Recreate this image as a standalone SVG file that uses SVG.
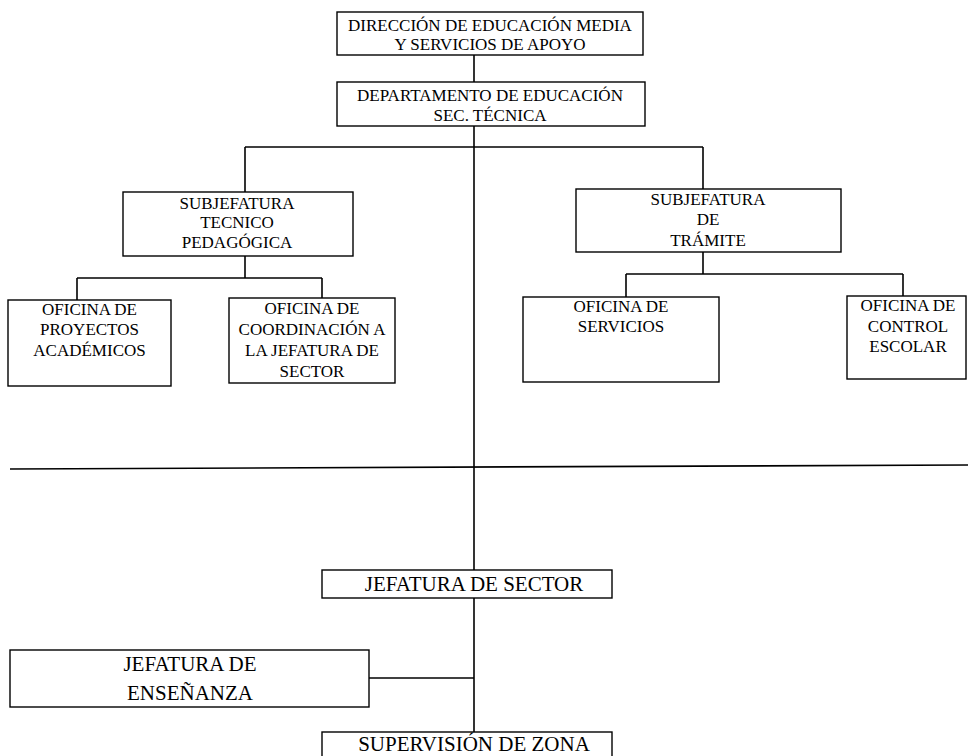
<svg xmlns="http://www.w3.org/2000/svg" width="968" height="756" viewBox="0 0 968 756">
<style>
  .box { fill: #ffffff; stroke: #000000; stroke-width: 1.4; }
  .t { font-family: "Liberation Serif", "Times New Roman", serif; font-size: 17px; fill: #000000; text-anchor: middle; }
  .tb { font-family: "Liberation Serif", "Times New Roman", serif; font-size: 21px; fill: #000000; text-anchor: middle; }
  .c { fill: none; stroke: #000000; stroke-width: 1.6; }
</style>
<rect x="0" y="0" width="968" height="756" fill="#ffffff"/>

<g id="connectors">
  <line class="c" x1="474" y1="55" x2="474" y2="82"/>
  <line class="c" x1="474" y1="126" x2="474" y2="570"/>
  <line class="c" x1="474" y1="598" x2="474" y2="732"/>
  <line class="c" x1="245" y1="147" x2="703" y2="147"/>
  <line class="c" x1="245" y1="147" x2="245" y2="192"/>
  <line class="c" x1="703" y1="147" x2="703" y2="189"/>
  <line class="c" x1="245" y1="256" x2="245" y2="278"/>
  <line class="c" x1="77" y1="278" x2="322" y2="278"/>
  <line class="c" x1="77" y1="278" x2="77" y2="300"/>
  <line class="c" x1="322" y1="278" x2="322" y2="298"/>
  <line class="c" x1="703" y1="252" x2="703" y2="274"/>
  <line class="c" x1="626" y1="274" x2="903" y2="274"/>
  <line class="c" x1="626" y1="274" x2="626" y2="297"/>
  <line class="c" x1="903" y1="274" x2="903" y2="296"/>
  <line class="c" x1="369" y1="678" x2="474" y2="678"/>
  <line class="c" x1="10" y1="469" x2="968" y2="465" stroke-width="1.3"/>
</g>

<g id="direccion">
  <rect class="box" x="337" y="12" width="306" height="43"/>
  <text class="t" x="490" y="31">DIRECCIÓN DE EDUCACIÓN MEDIA</text>
  <text class="t" x="490" y="50">Y SERVICIOS DE APOYO</text>
</g>

<g id="departamento">
  <rect class="box" x="337" y="82" width="308" height="44"/>
  <text class="t" x="490" y="101">DEPARTAMENTO DE EDUCACIÓN</text>
  <text class="t" x="490" y="121">SEC. TÉCNICA</text>
</g>

<g id="subjefatura-tecnico">
  <rect class="box" x="123" y="192" width="230" height="64"/>
  <text class="t" x="237" y="209">SUBJEFATURA</text>
  <text class="t" x="237" y="228">TECNICO</text>
  <text class="t" x="237" y="248">PEDAGÓGICA</text>
</g>

<g id="subjefatura-tramite">
  <rect class="box" x="576" y="189" width="265" height="63"/>
  <text class="t" x="708" y="205">SUBJEFATURA</text>
  <text class="t" x="708" y="225">DE</text>
  <text class="t" x="708" y="246">TRÁMITE</text>
</g>

<g id="oficina-proyectos">
  <rect class="box" x="8" y="300" width="163" height="86"/>
  <text class="t" x="89.5" y="315">OFICINA DE</text>
  <text class="t" x="89.5" y="335">PROYECTOS</text>
  <text class="t" x="89.5" y="356">ACADÉMICOS</text>
</g>

<g id="oficina-coordinacion">
  <rect class="box" x="229" y="298" width="166" height="85"/>
  <text class="t" x="312" y="314">OFICINA DE</text>
  <text class="t" x="312" y="335">COORDINACIÓN A</text>
  <text class="t" x="312" y="356">LA JEFATURA DE</text>
  <text class="t" x="312" y="377">SECTOR</text>
</g>

<g id="oficina-servicios">
  <rect class="box" x="523" y="297" width="196" height="85"/>
  <text class="t" x="621" y="312">OFICINA DE</text>
  <text class="t" x="621" y="332">SERVICIOS</text>
</g>

<g id="oficina-control">
  <rect class="box" x="847" y="296" width="119" height="83"/>
  <text class="t" x="908" y="311">OFICINA DE</text>
  <text class="t" x="908" y="332">CONTROL</text>
  <text class="t" x="908" y="352">ESCOLAR</text>
</g>

<g id="jefatura-sector">
  <rect class="box" x="322" y="570" width="290" height="28"/>
  <text class="tb" x="474" y="591">JEFATURA DE SECTOR</text>
</g>

<g id="jefatura-ensenanza">
  <rect class="box" x="10" y="650" width="359" height="57"/>
  <text class="tb" x="190" y="671">JEFATURA DE</text>
  <text class="tb" x="190" y="700">ENSEÑANZA</text>
</g>

<g id="supervision">
  <rect class="box" x="322" y="732" width="290" height="30"/>
  <text class="tb" x="474" y="751">SUPERVISIÓN DE ZONA</text>
</g>
</svg>
